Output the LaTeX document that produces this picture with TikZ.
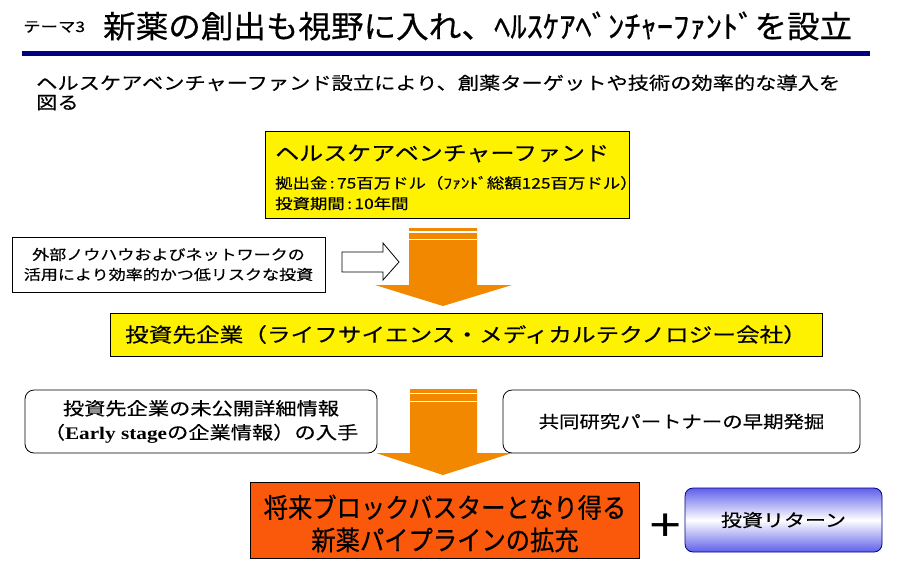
\documentclass[tikz,border=0pt]{standalone}
\usepackage{fontspec}
\setmainfont{Noto Sans CJK JP}[FakeStretch=1.2, FakeBold=0.4]
\newfontfamily\titlefont{Noto Sans CJK JP}[FakeStretch=1.05, FakeBold=0.5]
\newfontfamily\condfont{Noto Sans CJK JP}[FakeStretch=0.9, FakeBold=0.5]
\newfontfamily\serifb{Liberation Serif}[FakeStretch=1.2]
\newfontfamily\plusfont{Liberation Sans}[FakeStretch=1.2]
\definecolor{navy}{RGB}{0,0,128}
\definecolor{arroworange}{RGB}{242,135,0}
\definecolor{boxorange}{RGB}{250,88,10}
\definecolor{retblue}{RGB}{95,95,235}
\tikzset{
  plainbox/.style={draw=black, line width=1pt, inner sep=0pt},
  roundbox/.style={draw=black, line width=0.8pt, rounded corners=9pt, inner sep=0pt, fill=white},
  txt/.style={inner sep=0pt},
  bigarrow/.style={fill=arroworange},
  stripe/.style={draw=white, line width=1.6pt},
}
\begin{document}
\begin{tikzpicture}[x=1pt,y=-1pt]
\useasboundingbox (0,0) rectangle (901,565);
\fill[white] (0,0) rectangle (901,565);

% title
\node[txt, anchor=west, font=\fontsize{14.5}{14.5}\selectfont] (theme) at (23,27) {テーマ3};
\node[txt, anchor=west, font=\titlefont\fontsize{31}{31}\selectfont] (title) at (103,26) {新薬の創出も視野に入れ、ﾍﾙｽｹｱﾍﾞﾝﾁｬｰﾌｧﾝﾄﾞを設立};
\coordinate (ruleL) at (22,53.5);
\coordinate (ruleR) at (870,53.5);
\draw[navy, line width=4.5pt] (ruleL) -- (ruleR);

% intro
\node[txt, anchor=west, align=left, font=\fontsize{17.7}{19.5}\selectfont] (intro) at (36,92.5)
  {ヘルスケアベンチャーファンド設立により、創薬ターゲットや技術の効率的な導入を\\図る};

% fund box
\node[plainbox, fill=yellow, minimum width=364pt, minimum height=87pt] (fund) at (447,174.5) {};
\node[txt, anchor=west, font=\fontsize{20}{20}\selectfont] (fundname) at (275,153.5) {ヘルスケアベンチャーファンド};
\node[txt, anchor=west, font=\fontsize{14.5}{14.5}\selectfont] (fundamt) at (275,183) {拠出金\,:\,75百万ドル（ﾌｧﾝﾄﾞ総額125百万ドル）};
\node[txt, anchor=west, font=\fontsize{14.5}{14.5}\selectfont] (fundterm) at (275,203.5) {投資期間\,:\,10年間};

% know-how box
\node[plainbox, fill=white, minimum width=313pt, minimum height=55pt, align=center,
      font=\fontsize{14.2}{20}\selectfont] (know) at (168.5,264.5)
  {外部ノウハウおよびネットワークの\\活用により効率的かつ低リスクな投資};

% white block arrow
\draw[line width=0.8pt, fill=white] (342,252) -- (383,252) -- (383,243) -- (399,262)
  -- (383,280) -- (383,272) -- (342,272) -- cycle;

% orange arrow 1
\fill[bigarrow] (409,228) -- (477,228) -- (477,285) -- (512,285) -- (443,306)
  -- (375,285) -- (409,285) -- cycle;
\draw[stripe] (409,232) -- (477,232);
\draw[stripe] (409,239.5) -- (477,239.5);

% invested firms box
\node[plainbox, fill=yellow, minimum width=712pt, minimum height=43pt,
      font=\fontsize{19.7}{20}\selectfont] (firm) at (466,334.5)
  {投資先企業（ライフサイエンス・メディカルテクノロジー会社）};

% orange arrow 2
\fill[bigarrow] (410,389) -- (477,389) -- (477,453) -- (512,453) -- (443,475)
  -- (376,453) -- (410,453) -- cycle;
\draw[stripe] (410,393.5) -- (477,393.5);
\draw[stripe] (410,401.5) -- (477,401.5);

% rounded boxes
\node[roundbox, minimum width=352pt, minimum height=63pt, align=center,
      font=\fontsize{17.7}{24}\selectfont] (info) at (201,421.5)
  {投資先企業の未公開詳細情報\\（{\serifb\bfseries Early stage}の企業情報）の入手};
\node[roundbox, minimum width=357pt, minimum height=63pt,
      font=\fontsize{17}{17}\selectfont] (partner) at (681.5,421.5)
  {共同研究パートナーの早期発掘};

% pipeline box
\node[plainbox, fill=boxorange, minimum width=389pt, minimum height=76pt] (pipe) at (444.5,520) {};
\node[txt, align=center, font=\condfont\fontsize{27}{32.5}\selectfont] (pipetext) at (445,523.5)
  {将来ブロックバスターとなり得る\\新薬パイプラインの拡充};

% plus
\node[txt, font=\plusfont\fontsize{46}{46}\selectfont] (plus) at (666,527) {+};

% return box
\node[draw=navy, line width=0.8pt, rounded corners=8pt, top color=retblue, bottom color=retblue,
      middle color=white, minimum width=197pt, minimum height=64pt, inner sep=0pt,
      font=\fontsize{17.5}{17.5}\selectfont] (ret) at (783.5,520) {投資リターン};
\end{tikzpicture}
\end{document}
